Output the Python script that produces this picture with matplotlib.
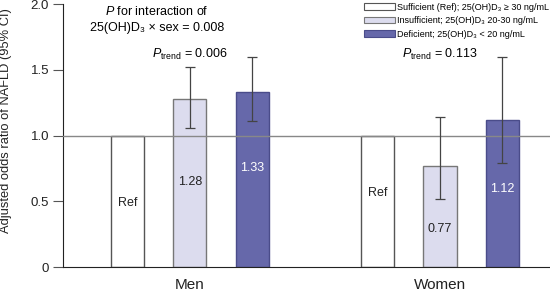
import numpy as np
import matplotlib
matplotlib.use("Agg")
import matplotlib.pyplot as plt
from matplotlib.patches import Patch

plt.rcParams['font.family'] = ['Liberation Sans', 'DejaVu Sans']
plt.rcParams['mathtext.fontset'] = 'custom'
plt.rcParams['mathtext.rm'] = 'Liberation Sans'
plt.rcParams['mathtext.it'] = 'Liberation Sans:italic'

# data
groups = ['Men', 'Women']
levels = ['Sufficient (Ref); 25(OH)D\u2083 \u2265 30 ng/mL',
          'Insufficient; 25(OH)D\u2083 20-30 ng/mL',
          'Deficient; 25(OH)D\u2083 < 20 ng/mL']
men_or = [1.0, 1.28, 1.33]
men_lo = [np.nan, 1.06, 1.11]
men_hi = [np.nan, 1.52, 1.60]
women_or = [1.0, 0.77, 1.12]
women_lo = [np.nan, 0.52, 0.79]
women_hi = [np.nan, 1.14, 1.60]
men_txt = ['Ref', '1.28', '1.33']
women_txt = ['Ref', '0.77', '1.12']
p_trend = ['0.006', '0.113']

fills = ['white', '#dcdcee', '#6668aa']
edges = ['#555555', '#777777', '#4a4c8a']
txt_cols = ['#222222', '#222222', 'white']
men_txt_y = [0.49, 0.65, 0.75]
women_txt_y = [0.56, 0.29, 0.59]

fig = plt.figure(figsize=(5.5, 2.93), dpi=100)
ax = fig.add_axes([0.1145, 0.0887, 0.8855, 0.8976])

w = 0.53
for gi, (ors, lo, hi, txts, ty) in enumerate([(men_or, men_lo, men_hi, men_txt, men_txt_y),
                                              (women_or, women_lo, women_hi, women_txt, women_txt_y)]):
    x = np.arange(3) + 4 * gi
    for i in range(3):
        ax.bar(x[i], ors[i], width=w, color=fills[i], edgecolor=edges[i], linewidth=1.0, zorder=2)
        if not np.isnan(lo[i]):
            ax.errorbar(x[i], ors[i], yerr=[[ors[i] - lo[i]], [hi[i] - ors[i]]],
                        fmt='none', ecolor='#444444', elinewidth=0.9, capsize=3.5, capthick=0.9, zorder=4)
        ax.text(x[i], ty[i], txts[i], ha='center', va='center', fontsize=9, color=txt_cols[i], zorder=5)
    ax.text(x[1], 1.62, r'$P_{\mathrm{trend}}$ = ' + p_trend[gi], ha='center', va='center', fontsize=9)

ax.axhline(1.0, color='#888888', linewidth=1.0, zorder=3)

ax.text(0.47, 1.94, r'$P$ for interaction of', ha='center', va='center', fontsize=9)
ax.text(0.47, 1.82, '25(OH)D\u2083 \u00d7 sex = 0.008', ha='center', va='center', fontsize=9)

ax.set_xlim(-1.03, 6.76)
ax.set_ylim(0, 2.0)
ax.set_yticks([0, 0.5, 1.0, 1.5, 2.0])
ax.set_yticklabels(['0', '0.5', '1.0', '1.5', '2.0'], fontsize=9.5, color='#222222')
ax.set_xticks([1, 5])
ax.set_xticklabels(groups, fontsize=11, color='#222222')
ax.tick_params(axis='x', length=0, pad=8)
ax.tick_params(axis='y', direction='out', length=7, width=0.8, color='#555555', pad=3)
ax.set_ylabel('Adjusted odds ratio of NAFLD (95% CI)', fontsize=9.3, color='#222222', labelpad=6)
ax.yaxis.set_label_coords(-0.105, 0.555)
ax.spines['top'].set_visible(False)
ax.spines['right'].set_visible(False)
ax.spines['left'].set_color('#222222')
ax.spines['bottom'].set_color('#222222')

handles = [Patch(facecolor=fills[i], edgecolor=edges[i], linewidth=0.8) for i in range(3)]
fig.legend(handles, levels, loc='upper left', bbox_to_anchor=(0.65, 1.012), frameon=False,
           fontsize=6.5, handlelength=3.4, handleheight=0.75, handletextpad=0.3, labelspacing=0.5,
           borderpad=0.2)

fig.savefig('out.png', dpi=100)
